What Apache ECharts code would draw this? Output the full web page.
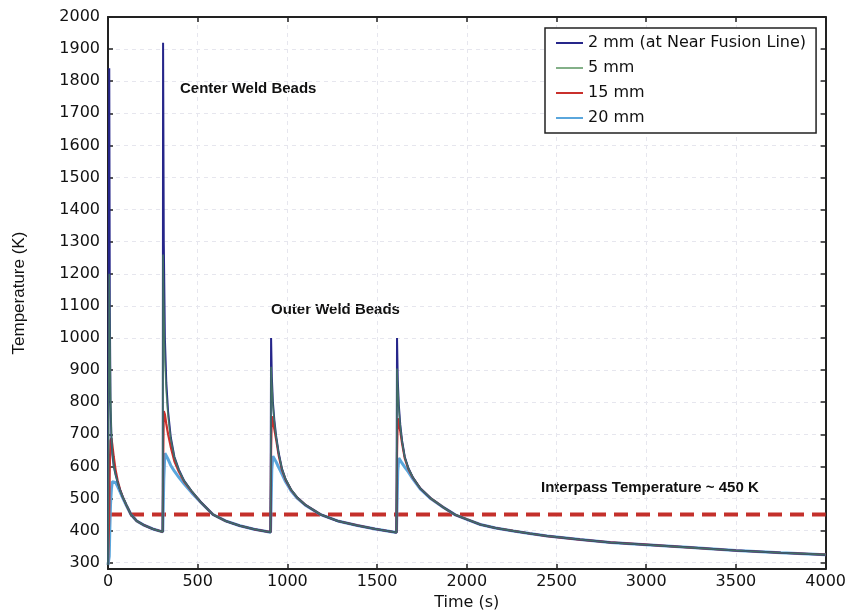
<!DOCTYPE html>
<html><head><meta charset="utf-8">
<script src="https://cdn.jsdelivr.net/npm/echarts@6/dist/echarts.min.js"></script>
<style>html,body{margin:0;padding:0;background:#fff}#c{width:849px;height:616px}</style>
</head><body><div id="c"></div>
<script>
// time points (s)
const times = [
  0, 7, 10, 14, 19, 24, 32, 42, 54, 68, 82, 102, 128, 160, 200, 250,
  305, 307, 311, 317, 325, 335, 350, 370, 395, 425, 465, 515, 585, 655, 735, 815,
  906, 909, 913, 919, 927, 937, 952, 970, 990, 1020, 1056, 1100, 1185, 1280, 1390, 1490,
  1608, 1611, 1615, 1621, 1629, 1639, 1654, 1674, 1700, 1740, 1800, 1870, 1936, 2000, 2075, 2160, 2259, 2350, 2448, 2631, 2800, 3000, 3250, 3500, 3750, 4000
];
// temperatures (K)
const temp2mm = [
  293, 1840, 1100, 800, 690, 640, 600, 575, 550, 525, 505, 480, 450, 430, 417, 405,
  396, 1920, 1300, 1000, 860, 770, 690, 630, 590, 555, 524, 490, 450, 430, 415, 404,
  395, 1000, 880, 800, 745, 695, 640, 592, 560, 528, 502, 480, 450, 430, 416, 405,
  394, 1000, 870, 790, 730, 680, 630, 595, 565, 532, 500, 472, 449, 435, 419, 408, 399, 391, 383, 372, 363, 356, 347, 338, 331, 325
];
const temp5mm = [
  293, 1200, 1050, 830, 700, 645, 602, 575, 550, 525, 505, 480, 450, 430, 417, 405,
  396, 1260, 1100, 930, 830, 755, 685, 628, 588, 554, 524, 490, 450, 430, 415, 404,
  395, 910, 860, 790, 740, 692, 638, 591, 560, 528, 502, 480, 450, 430, 416, 405,
  394, 905, 850, 780, 725, 677, 628, 594, 565, 532, 500, 472, 449, 435, 419, 408, 399, 391, 383, 372, 363, 356, 347, 338, 331, 325
];
const temp15mm = [
  293, 450, 600, 680, 688, 668, 630, 590, 555, 527, 505, 480, 450, 430, 417, 405,
  396, 600, 772, 762, 732, 700, 660, 616, 583, 552, 523, 490, 450, 430, 415, 404,
  395, 650, 756, 742, 716, 684, 632, 588, 558, 527, 502, 480, 450, 430, 416, 405,
  394, 640, 750, 736, 710, 672, 625, 592, 564, 532, 500, 472, 449, 435, 419, 408, 399, 391, 383, 372, 363, 356, 347, 338, 331, 325
];
const temp20mm = [
  293, 320, 400, 480, 530, 552, 558, 550, 537, 520, 502, 479, 450, 430, 417, 405,
  396, 450, 560, 641, 636, 622, 603, 585, 566, 545, 519, 489, 450, 430, 415, 404,
  395, 480, 590, 632, 626, 614, 596, 576, 552, 524, 500, 479, 450, 430, 416, 405,
  394, 480, 585, 626, 620, 610, 598, 583, 560, 530, 499, 472, 449, 435, 419, 408, 399, 391, 383, 372, 363, 356, 347, 338, 331, 325
];
const seriesNames = ['2 mm (at Near Fusion Line)', '5 mm', '15 mm', '20 mm'];
const yTicks = [300, 400, 500, 600, 700, 800, 900, 1000, 1100, 1200, 1300, 1400, 1500, 1600, 1700, 1800, 1900, 2000];
const interpassTemp = 450;
const interpassSpan = [0, 4000];

const pairs = v => times.map((t, i) => [t, v[i]]);
const chart = echarts.init(document.getElementById('c'));
const axisCol = '#222';
const gridLine = {show: true, lineStyle: {color: '#e6e6ee', width: 1, type: [4, 4]}};
const baseX = {type: 'value', min: 0, max: 4000, interval: 500,
  axisLine: {show: true, onZero: false, lineStyle: {color: axisCol, width: 2}},
  axisTick: {show: true, inside: true, length: 5, lineStyle: {color: axisCol, width: 1.5}}};
const baseY = {type: 'value', min: 280, max: 2000,
  axisLine: {show: true, onZero: false, lineStyle: {color: axisCol, width: 2}},
  axisTick: {show: true, inside: true, length: 5, customValues: yTicks, lineStyle: {color: axisCol, width: 1.5}}};
const lbl = {fontFamily: 'DejaVu Sans', fontSize: 16, color: '#111', formatter: v => String(v)};
const line = (name, data, color, width, extra) => Object.assign({
  name, type: 'line', data: pairs(data), symbol: 'none', smooth: false,
  lineStyle: {color, width}, itemStyle: {color}, animation: false
}, extra || {});

chart.setOption({
  animation: false,
  grid: {left: 108, right: 23, top: 17, bottom: 45},
  xAxis: [
    Object.assign({}, baseX, {position: 'bottom', name: 'Time (s)', nameLocation: 'middle', nameGap: 24,
      nameTextStyle: {fontFamily: 'DejaVu Sans', fontSize: 16, color: '#111'},
      axisLabel: Object.assign({margin: 5}, lbl), splitLine: gridLine}),
    Object.assign({}, baseX, {position: 'top', axisLabel: {show: false}, splitLine: {show: false}})
  ],
  yAxis: [
    Object.assign({}, baseY, {position: 'left', name: 'Temperature (K)', nameLocation: 'middle', nameGap: 80,
      nameTextStyle: {fontFamily: 'Liberation Sans', fontSize: 17, color: '#111'},
      axisLabel: Object.assign({margin: 8, customValues: yTicks}, lbl), splitLine: gridLine}),
    Object.assign({}, baseY, {position: 'right', axisLabel: {show: false}, splitLine: {show: false}})
  ],
  legend: {
    data: seriesNames, orient: 'vertical', left: 545, top: 28,
    padding: [7, 10, 7, 10], itemWidth: 27, itemHeight: 14, itemGap: 9,
    itemStyle: {opacity: 0},
    borderColor: '#222', borderWidth: 1.5, backgroundColor: '#fff',
    textStyle: {fontFamily: 'DejaVu Sans', fontSize: 16, color: '#111'}
  },
  series: [
    {name: 'interpass', type: 'line', data: interpassSpan.map(t => [t, interpassTemp]), symbol: 'none',
      lineStyle: {color: '#c4302b', width: 4, type: [14, 8]}, silent: true, animation: false},
    line(seriesNames[3], temp20mm, '#5aa6dc', 3),
    line(seriesNames[2], temp15mm, '#c9302c', 2.2),
    line(seriesNames[0], temp2mm, '#26268a', 2),
    line(seriesNames[1], temp5mm, '#4e8e55', 1.6, {lineStyle: {color: '#4e8e55', width: 1.6, opacity: 0.7}})
  ],
  graphic: [
    {type: 'text', left: 180, top: 81, style: {text: 'Center Weld Beads', font: 'bold 15px "Liberation Sans"', fill: '#111'}},
    {type: 'text', left: 271, top: 302, style: {text: 'Outer Weld Beads', font: 'bold 15px "Liberation Sans"', fill: '#111'}},
    {type: 'text', left: 541, top: 480, style: {text: 'Interpass Temperature ~ 450 K', font: 'bold 15px "Liberation Sans"', fill: '#111'}}
  ]
});
</script></body></html>
